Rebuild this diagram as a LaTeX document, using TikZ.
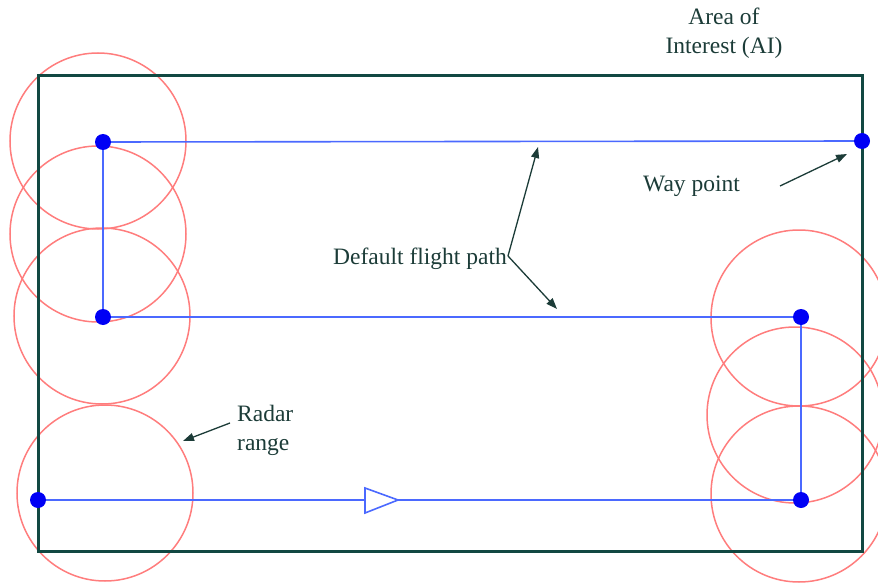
\documentclass[tikz,border=0pt]{standalone}
\usepackage{fontspec}
\setmainfont{Liberation Serif}
\usetikzlibrary{arrows.meta}
\definecolor{framecol}{RGB}{18,72,66}
\definecolor{pathblue}{RGB}{75,105,255}
\definecolor{dotblue}{RGB}{0,0,245}
\definecolor{radarred}{RGB}{255,125,125}
\definecolor{ink}{RGB}{28,60,56}
\tikzset{
  radar/.style={draw=radarred, line width=1.5pt},
  aoi/.style={draw=framecol, line width=3pt},
  flight/.style={draw=pathblue, line width=1.6pt},
  wpt/.style={circle, fill=dotblue, inner sep=0pt, minimum size=16pt},
  lbl/.style={text=ink, font=\fontsize{23.5}{29}\selectfont, inner sep=0pt},
  pointer/.style={draw=ink, line width=1.3pt, -{Triangle[length=11pt,width=8pt]}}
}
\begin{document}
\begin{tikzpicture}[x=1pt,y=-1pt]
\useasboundingbox (0,0) rectangle (878,583);
\fill[white] (0,0) rectangle (878,583);

% radar coverage around the turn points
\draw[radar] (98,141) circle[radius=88];
\draw[radar] (98,234) circle[radius=88];
\draw[radar] (102,316) circle[radius=88];
\draw[radar] (105,493) circle[radius=88];
\draw[radar] (799,318) circle[radius=88];
\draw[radar] (795,415) circle[radius=88];
\draw[radar] (799,494) circle[radius=88];

% area of interest
\draw[aoi] (38,76) rectangle (862,551);

% way points
\node[wpt] (p1) at (38,500) {};
\node[wpt] (p2) at (801,500) {};
\node[wpt] (p3) at (801,317) {};
\node[wpt] (p4) at (103,317) {};
\node[wpt] (p5) at (103,142) {};
\node[wpt] (p6) at (862,141) {};

% default flight path
\draw[flight] (p1) -- (p2) -- (p3) -- (p4) -- (p5) -- (p6);
\draw[draw=pathblue, line width=1.6pt, fill=white] (365,488) -- (398,500) -- (365,513) -- cycle;

% labels
\node[lbl, align=center] (area) at (724,33) {Area of\\Interest (AI)};
\node[lbl, anchor=west] (wayp) at (643,186) {Way point};
\node[lbl, anchor=west] (dfp) at (333,259) {Default flight path};
\node[lbl, anchor=west, align=left] (radr) at (237,430) {Radar\\range};

% pointers
\coordinate (waytail) at (780,186);
\coordinate (wayhead) at (847,154);
\coordinate (uphead) at (538,147);
\coordinate (downhead) at (557,309);
\coordinate (radarhead) at (183,441);
\draw[pointer] (waytail) -- (wayhead);
\draw[pointer] ([xshift=1pt,yshift=3pt]dfp.east) -- (uphead);
\draw[pointer] ([xshift=1pt,yshift=3pt]dfp.east) -- (downhead);
\draw[pointer] ([xshift=-7pt,yshift=7pt]radr.west) -- (radarhead);
\end{tikzpicture}
\end{document}
